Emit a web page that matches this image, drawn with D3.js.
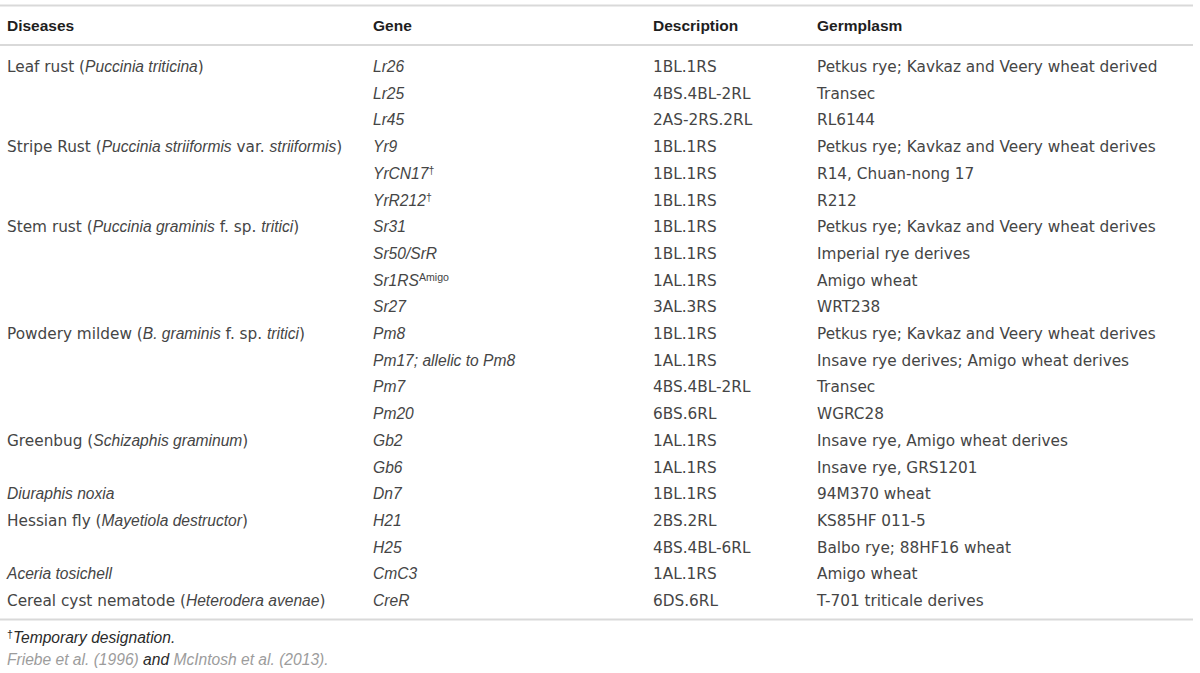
<!DOCTYPE html>
<html>
<head>
<meta charset="utf-8">
<script src="https://cdn.jsdelivr.net/npm/d3@7"></script>
<style>
  body { margin: 0; background: #fff; }
  svg { display: block; font-family: "Liberation Sans", Arial, Helvetica, sans-serif; }
</style>
</head>
<body>
<svg width="1200" height="673"></svg>
<script>
// *text* = italic, ^text^ = superscript, ~text~ = grey (citation)
var columns = ["Diseases", "Gene", "Description", "Germplasm"];

var diseases = [
    "Leaf rust (*Puccinia triticina*)", "", "",
    "Stripe Rust (*Puccinia striiformis* var. *striiformis*)", "", "",
    "Stem rust (*Puccinia graminis* f. sp. *tritici*)", "", "", "",
    "Powdery mildew (*B. graminis* f. sp. *tritici*)", "", "", "",
    "Greenbug (*Schizaphis graminum*)", "",
    "*Diuraphis noxia*",
    "Hessian fly (*Mayetiola destructor*)", "",
    "*Aceria tosichell*",
    "Cereal cyst nematode (*Heterodera avenae*)"
];

var genes = [
    "*Lr26*", "*Lr25*", "*Lr45*",
    "*Yr9*", "*YrCN17*^†^", "*YrR212*^†^",
    "*Sr31*", "*Sr50/SrR*", "*Sr1RS*^Amigo^", "*Sr27*",
    "*Pm8*", "*Pm17; allelic to Pm8*", "*Pm7*", "*Pm20*",
    "*Gb2*", "*Gb6*",
    "*Dn7*",
    "*H21*", "*H25*",
    "*CmC3*",
    "*CreR*"
];

var descriptions = [
    "1BL.1RS", "4BS.4BL-2RL", "2AS-2RS.2RL",
    "1BL.1RS", "1BL.1RS", "1BL.1RS",
    "1BL.1RS", "1BL.1RS", "1AL.1RS", "3AL.3RS",
    "1BL.1RS", "1AL.1RS", "4BS.4BL-2RL", "6BS.6RL",
    "1AL.1RS", "1AL.1RS",
    "1BL.1RS",
    "2BS.2RL", "4BS.4BL-6RL",
    "1AL.1RS",
    "6DS.6RL"
];

var germplasm = [
    "Petkus rye; Kavkaz and Veery wheat derived", "Transec", "RL6144",
    "Petkus rye; Kavkaz and Veery wheat derives", "R14, Chuan-nong 17", "R212",
    "Petkus rye; Kavkaz and Veery wheat derives", "Imperial rye derives", "Amigo wheat", "WRT238",
    "Petkus rye; Kavkaz and Veery wheat derives", "Insave rye derives; Amigo wheat derives", "Transec", "WGRC28",
    "Insave rye, Amigo wheat derives", "Insave rye, GRS1201",
    "94M370 wheat",
    "KS85HF 011-5", "Balbo rye; 88HF16 wheat",
    "Amigo wheat",
    "T-701 triticale derives"
];

var footnotes = [
    "^†^*Temporary designation.*",
    "~*Friebe et al. (1996)*~* and *~*McIntosh et al. (2013).*~"
];

var svg = d3.select('svg');
var width = +svg.attr('width');

var colX = { "Diseases": 7, "Gene": 373, "Description": 653, "Germplasm": 817 };

var rows = d3.range(genes.length).map(function (i) {
    return [diseases[i], genes[i], descriptions[i], germplasm[i]];
});

var y = d3.scaleLinear().domain([0, rows.length - 1]).range([72, 606]);

var fontSize = 15.3;
var italicSize = 15.6;
var uprightFont = '"DejaVu Sans", sans-serif';
var italicFont = '"Liberation Sans", Arial, sans-serif';

// split markup into styled pieces
function parse(str) {
    var parts = [];
    var italic = false, sup = false, grey = false, buf = "";
    function flush() {
        if (buf) parts.push({ text: buf, italic: italic, sup: sup, grey: grey });
        buf = "";
    }
    for (var i = 0; i < str.length; i++) {
        var ch = str[i];
        if (ch === '*') { flush(); italic = !italic; }
        else if (ch === '^') { flush(); sup = !sup; }
        else if (ch === '~') { flush(); grey = !grey; }
        else buf += ch;
    }
    flush();
    return parts;
}

function richText(sel, str) {
    sel.selectAll('tspan')
        .data(parse(str))
        .enter().append('tspan')
        .attr('font-family', d => (d.italic || d.sup) ? italicFont : uprightFont)
        .attr('font-style', d => d.italic ? 'italic' : 'normal')
        .attr('font-size', d => d.sup ? italicSize * 0.68 : (d.italic ? italicSize : fontSize))
        .attr('baseline-shift', d => d.sup ? '45%' : null)
        .attr('fill', d => d.grey ? '#9c9c9c' : null)
        .style('white-space', 'pre')
        .text(d => d.text);
}

// rules
var lineColor = '#d9d9d9';
[5.5, 45, 619.5].forEach(function (ly) {
    svg.append('line')
        .attr('x1', 0).attr('x2', 1193)
        .attr('y1', ly).attr('y2', ly)
        .attr('stroke', lineColor).attr('stroke-width', 2);
});

// header
svg.append('g').attr('class', 'header')
    .selectAll('text')
    .data(columns)
    .enter().append('text')
    .attr('x', d => colX[d])
    .attr('y', 31)
    .attr('font-size', 15.5)
    .attr('font-weight', 'bold')
    .attr('fill', '#1e1e1e')
    .text(d => d);

// body
var rowG = svg.append('g').attr('class', 'body')
    .selectAll('.row')
    .data(rows)
    .enter().append('g')
    .attr('class', 'row')
    .attr('transform', (d, i) => 'translate(0,' + y(i) + ')');

rowG.selectAll('text')
    .data(d => d.map((v, j) => ({ col: columns[j], value: v })))
    .enter().append('text')
    .attr('x', d => colX[d.col])
    .attr('fill', '#454545')
    .each(function (d) { richText(d3.select(this), d.value); });

// footnotes
svg.append('g').attr('class', 'notes')
    .selectAll('text')
    .data(footnotes)
    .enter().append('text')
    .attr('x', 7)
    .attr('y', (d, i) => 643 + i * 22)
    .attr('fill', '#2a2a2a')
    .each(function (d) { richText(d3.select(this), d); });
</script>
</body>
</html>
